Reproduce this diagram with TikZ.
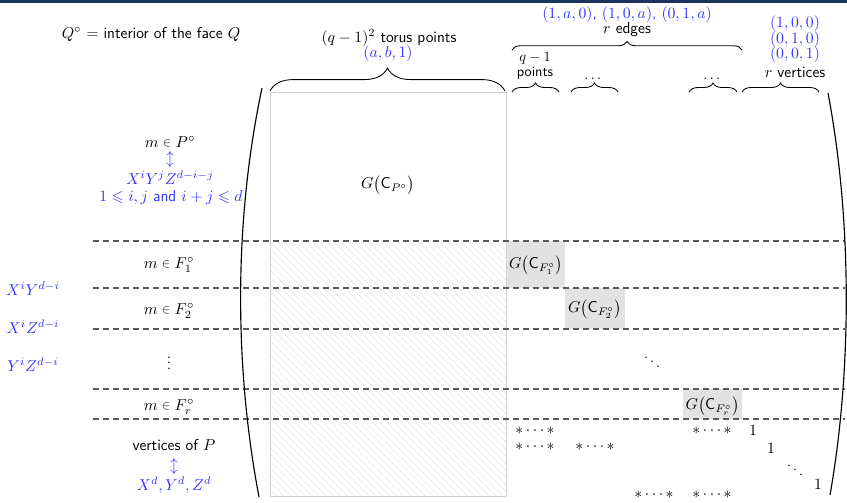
\documentclass[tikz,border=0pt]{standalone}
\usepackage{fix-cm}
\usepackage{graphicx}
\usepackage{amsmath,amssymb}
\usetikzlibrary{decorations.pathreplacing,patterns.meta}
\definecolor{myblue}{RGB}{51,51,255}
\definecolor{barblue}{RGB}{24,54,90}
\definecolor{dashgray}{RGB}{90,90,90}
\definecolor{boxgray}{RGB}{226,226,226}
\definecolor{hatchgray}{RGB}{226,226,226}
\definecolor{rectgray}{RGB}{210,210,210}
\newcommand{\smallelem}{\mathrel{\vcenter{\hbox{\scalebox{0.8}{$\in$}}}}}
\begin{document}
\begin{tikzpicture}[x=0.7pt,y=0.7pt,
  txt/.style={font=\sffamily\fontsize{11}{13}\selectfont, inner sep=0pt, text=black},
  bltxt/.style={txt, text=myblue},
  smtxt/.style={font=\sffamily\fontsize{10}{12}\selectfont, inner sep=0pt},
  dline/.style={draw=dashgray, line width=0.8pt, dash pattern=on 4.1pt off 2.9pt},
  gbox/.style={fill=boxgray, draw=none},
  bracedeco/.style={decorate, decoration={brace, amplitude=#1}, line width=0.6pt},
  paren/.style={line width=0.8pt},
]
\useasboundingbox (0,0) rectangle (847,-502);
\fill[barblue] (0,0) rectangle (847,-3);

% torus block
\fill[pattern={Lines[angle=-45,distance=3.5pt,line width=0.35pt]}, pattern color=hatchgray] (270,-241) rectangle (506,-496);
\coordinate (tnw) at (270,-92);
\coordinate (tse) at (506,-496);
\draw[draw=rectgray, line width=0.45pt] (tnw) rectangle (tse);

% gray diagonal boxes
\fill[gbox] (507,-241) rectangle (565,-288);
\fill[gbox] (565,-288) rectangle (625,-329);
\fill[gbox] (683,-389) rectangle (742,-419);
\node[txt] (b1) at (536,-265) {$G\bigl(\mathsf{C}_{F_1^\circ}\bigr)$};
\node[txt] (b2) at (595,-309) {$G\bigl(\mathsf{C}_{F_2^\circ}\bigr)$};
\node[txt] (b3) at (712.5,-406) {$G\bigl(\mathsf{C}_{F_r^\circ}\bigr)$};

% dashed separators
\foreach \yy [count=\k] in {241,288,329,389,419}{
  \coordinate (dl\k) at (93,-\yy);
  \coordinate (dr\k) at (845,-\yy);
  \draw[dline] (dl\k) -- (dr\k);
}

% parentheses
\coordinate (lpa) at (262,-88);
\coordinate (lpb) at (259,-497);
\coordinate (rpa) at (828,-93);
\coordinate (rpb) at (830,-495);
\draw[paren] (lpa) .. controls (234,-220) and (234,-365) .. (lpb);
\draw[paren] (rpa) .. controls (852,-220) and (852,-370) .. (rpb);

% braces
\coordinate (bga) at (270,-91);  \coordinate (bgb) at (505,-91);
\draw[bracedeco=16pt] (bga) -- (bgb);
\coordinate (bea) at (512,-50);  \coordinate (beb) at (742,-50);
\draw[bracedeco=6pt] (bea) -- (beb);
\coordinate (s1a) at (512,-92);  \coordinate (s1b) at (559,-92);
\coordinate (s2a) at (571,-92);  \coordinate (s2b) at (618,-92);
\coordinate (s3a) at (689,-92);  \coordinate (s3b) at (737,-92);
\coordinate (s4a) at (742,-92);  \coordinate (s4b) at (819,-92);
\draw[bracedeco=6.3pt] (s1a) -- (s1b);
\draw[bracedeco=6.3pt] (s2a) -- (s2b);
\draw[bracedeco=6.3pt] (s3a) -- (s3b);
\draw[bracedeco=6.3pt] (s4a) -- (s4b);

% top texts
\node[txt] (qdef) at (151,-34) {$Q^\circ$ = interior of the face $Q$};
\node[txt] (tor) at (389,-38) {$(q-1)^2$ torus points};
\node[bltxt] (abl) at (388,-54) {$(a,b,1)$};
\node[bltxt] (edl) at (627,-15) {$(1,a,0)$, $(1,0,a)$, $(0,1,a)$};
\node[txt] (redg) at (627,-30) {$r$ edges};
\node[smtxt] (qm1) at (535,-58) {$q-1$};
\node[smtxt] (pts) at (535,-73) {points};
\node[smtxt] (dt1) at (594,-79) {$\dots$};
\node[smtxt] (dt2) at (713,-79) {$\dots$};
\node[bltxt] (v1) at (795,-24) {$(1,0,0)$};
\node[bltxt] (v2) at (795,-40) {$(0,1,0)$};
\node[bltxt] (v3) at (795,-55) {$(0,0,1)$};
\node[txt] (rv) at (795,-72) {$r$ vertices};

% left texts
\node[txt] (mP) at (170,-142) {$m\smallelem P^\circ$};
\node[bltxt] (ar1) at (170,-160) {$\updownarrow$};
\node[bltxt] (xyz) at (170,-178) {$X^iY^jZ^{d-i-j}$};
\node[bltxt] (cond) at (171,-198) {$1\leqslant i,j$ and $i+j\leqslant d$};
\node[txt] (G0) at (388,-185) {$G\bigl(\mathsf{C}_{P^\circ}\bigr)$};
\node[txt] (mF1) at (169,-265) {$m\smallelem F_1^\circ$};
\node[txt] (mF2) at (169,-311) {$m\smallelem F_2^\circ$};
\node[txt] (vd) at (169,-359) {$\vdots$};
\node[txt] (mFr) at (169,-407) {$m\smallelem F_r^\circ$};
\node[bltxt] (lxy) at (33,-289) {$X^iY^{d-i}$};
\node[bltxt] (lxz) at (33,-327) {$X^iZ^{d-i}$};
\node[bltxt] (lyz) at (33,-365) {$Y^iZ^{d-i}$};
\node[txt] (vP) at (174,-445) {vertices of $P$};
\node[bltxt] (ar2) at (174,-467) {$\updownarrow$};
\node[bltxt] (xd) at (174,-485) {$X^d,Y^d,Z^d$};

% right lower part
\node[txt] (dd1) at (652,-358) {$\ddots$};
\node[txt] (st1) at (535,-431) {$*\cdots*$};
\node[txt] (st2) at (535,-447) {$*\cdots*$};
\node[txt] (st3) at (595,-447) {$*\cdots*$};
\node[txt] (st4) at (712,-431) {$*\cdots*$};
\node[txt] (st5) at (654,-495) {$*\cdots*$};
\node[txt] (st6) at (712,-495) {$*\cdots*$};
\node[txt] (one1) at (753,-430) {$1$};
\node[txt] (one2) at (771,-448) {$1$};
\node[txt] (dd2) at (795,-466) {$\ddots$};
\node[txt] (one3) at (818,-484) {$1$};
\end{tikzpicture}
\end{document}
